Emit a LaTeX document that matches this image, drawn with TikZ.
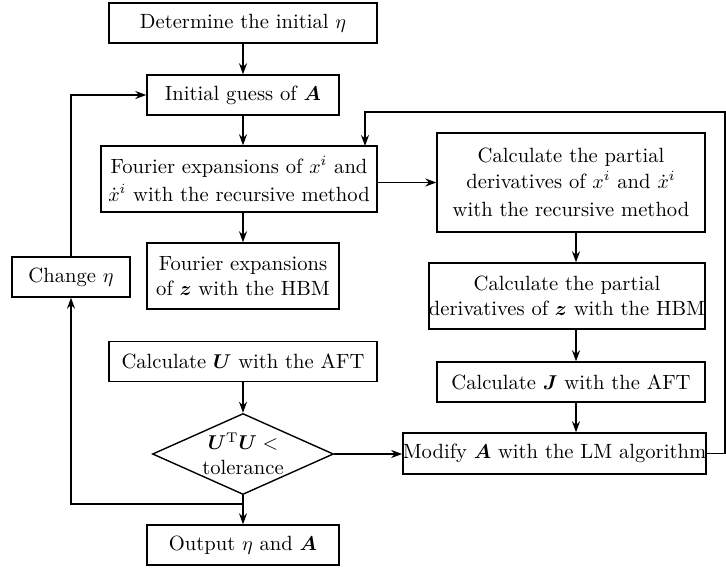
\documentclass[tikz,border=0pt]{standalone}
\usepackage{bm}
\usetikzlibrary{shapes.geometric,arrows.meta,calc}
\begin{document}
\begin{tikzpicture}[x=0.5pt,y=-0.5pt,
  box/.style={draw,line width=0.7pt,align=center,inner sep=0pt,font=\fontsize{10.3}{12.6}\selectfont},
  arr/.style={line width=0.7pt,-{Stealth[length=5.5pt,width=4pt]}},
  ln/.style={line width=0.7pt}]
\useasboundingbox (0,0) rectangle (726,567);
\node[box,minimum width=134pt,minimum height=20pt] (init) at (243,23) {Determine the initial $\eta$};
\node[box,minimum width=96pt,minimum height=20pt] (guess) at (243,95) {Initial guess of $\bm{A}$};
\node[box,minimum width=138pt,minimum height=33pt] (four) at (239,179) {Fourier expansions of $x^i$ and\\[1.5pt]$\dot{x}^i$ with the recursive method};
\node[box,minimum width=96pt,minimum height=33pt] (fourz) at (243,276) {Fourier expansions\\of $\bm{z}$ with the HBM};
\node[box,minimum width=59pt,minimum height=20pt] (change) at (71,277) {Change $\eta$};
\node[box,minimum width=134pt,minimum height=20pt] (calcU) at (243,361.5) {Calculate $\bm{U}$ with the AFT};
\node[box,diamond,aspect=2.2,inner sep=-3pt,minimum width=90.5pt,minimum height=40.5pt] (dia) at (243,454) {$\bm{U}^{\mathrm{T}}\bm{U}<$\\tolerance};
\node[box,minimum width=96pt,minimum height=20pt] (out) at (243,545) {Output $\eta$ and $\bm{A}$};
\node[box,minimum width=134pt,minimum height=49.5pt] (pdx) at (571,182.5) {Calculate the partial\\derivatives of $x^i$ and $\dot{x}^i$\\[1.5pt]with the recursive method};
\node[box,minimum width=138pt,minimum height=33pt] (pdz) at (567,296) {Calculate the partial\\derivatives of $\bm{z}$ with the HBM};
\node[box,minimum width=134pt,minimum height=20pt] (calcJ) at (571,382) {Calculate $\bm{J}$ with the AFT};
\node[box,minimum width=150.5pt,minimum height=20.5pt] (mod) at (554.5,453.5) {Modify $\bm{A}$ with the LM algorithm};
\coordinate (j) at (243,504);
\coordinate (r1) at (725,453.5);
\coordinate (r2) at (725,112);
\coordinate (t4) at (365,146);
\coordinate (rc) at (576,0);
\draw[arr] (init.south) -- (guess.north);
\draw[arr] (guess.south) -- (guess.south |- four.north);
\draw[arr] (four.south -| guess.south) -- (fourz.north);
\draw[arr] (calcU.south) -- (dia.north);
\draw[arr] (dia.south) -- (out.north);
\draw[arr] (j) -| (change.south);
\draw[arr] (change.north) |- (guess.west);
\draw[arr] (four.east |- pdx.west) -- (pdx.west);
\draw[arr] (rc |- pdx.south) -- (rc |- pdz.north);
\draw[arr] (rc |- pdz.south) -- (rc |- calcJ.north);
\draw[arr] (rc |- calcJ.south) -- (rc |- mod.north);
\draw[arr] (dia.east) -- (dia.east -| mod.west);
\draw[arr] (mod.east) -- (r1) -- (r2) -| (t4);
\end{tikzpicture}
\end{document}
